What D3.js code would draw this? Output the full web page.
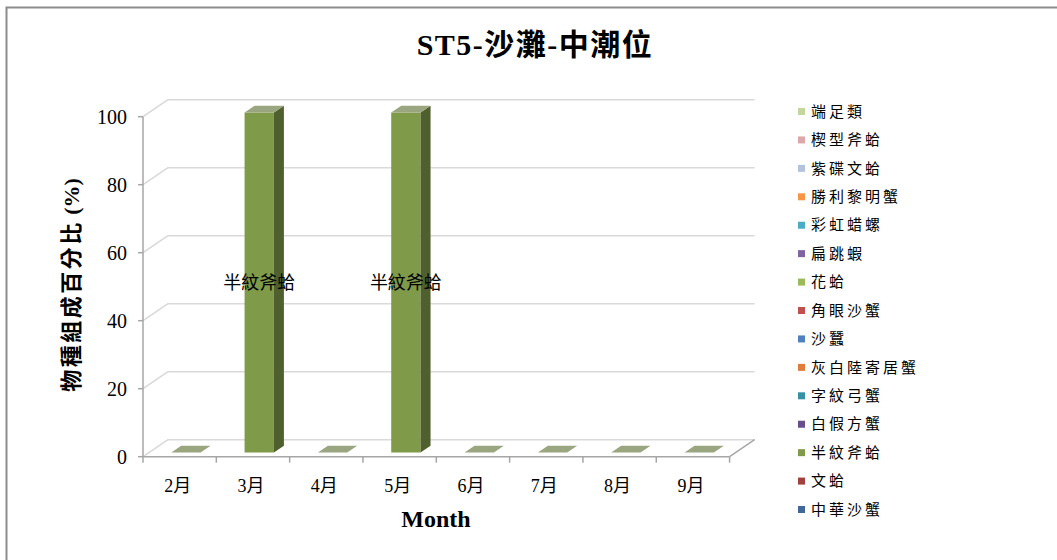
<!DOCTYPE html>
<html>
<head>
<meta charset="utf-8">
<script src="https://cdn.jsdelivr.net/npm/d3@7"></script>
<style>
  html, body { margin: 0; padding: 0; background: #fff; }
  svg { display: block; }
</style>
</head>
<body>
<svg id="chart" width="1057" height="560"></svg>
<script>
// ---------- data ----------
const months = ["2月", "3月", "4月", "5月", "6月", "7月", "8月", "9月"];
const species = ["端足類", "楔型斧蛤", "紫碟文蛤", "勝利黎明蟹", "彩虹蜡螺", "扁跳蝦", "花蛤",
  "角眼沙蟹", "沙蠶", "灰白陸寄居蟹", "字紋弓蟹", "白假方蟹", "半紋斧蛤", "文蛤", "中華沙蟹"];
const speciesColors = ["#c3d69b", "#dda8aa", "#b3c2dd", "#f79646", "#4bacc6", "#8064a2", "#9bbb59",
  "#c0504d", "#4f81bd", "#e07d39", "#3790a5", "#674e8a", "#7f9a48", "#a33f3c", "#3f679a"];
// percent composition per species, per month (order of months above)
const v端足類 = [0, 0, 0, 0, 0, 0, 0, 0];
const v楔型斧蛤 = [0, 0, 0, 0, 0, 0, 0, 0];
const v紫碟文蛤 = [0, 0, 0, 0, 0, 0, 0, 0];
const v勝利黎明蟹 = [0, 0, 0, 0, 0, 0, 0, 0];
const v彩虹蜡螺 = [0, 0, 0, 0, 0, 0, 0, 0];
const v扁跳蝦 = [0, 0, 0, 0, 0, 0, 0, 0];
const v花蛤 = [0, 0, 0, 0, 0, 0, 0, 0];
const v角眼沙蟹 = [0, 0, 0, 0, 0, 0, 0, 0];
const v沙蠶 = [0, 0, 0, 0, 0, 0, 0, 0];
const v灰白陸寄居蟹 = [0, 0, 0, 0, 0, 0, 0, 0];
const v字紋弓蟹 = [0, 0, 0, 0, 0, 0, 0, 0];
const v白假方蟹 = [0, 0, 0, 0, 0, 0, 0, 0];
const v半紋斧蛤 = [0, 100, 0, 100, 0, 0, 0, 0];
const v文蛤 = [0, 0, 0, 0, 0, 0, 0, 0];
const v中華沙蟹 = [0, 0, 0, 0, 0, 0, 0, 0];
const seriesValues = [v端足類, v楔型斧蛤, v紫碟文蛤, v勝利黎明蟹, v彩虹蜡螺, v扁跳蝦, v花蛤,
  v角眼沙蟹, v沙蠶, v灰白陸寄居蟹, v字紋弓蟹, v白假方蟹, v半紋斧蛤, v文蛤, v中華沙蟹];
const yTicks = [0, 20, 40, 60, 80, 100];
const titleText = "ST5-沙灘-中潮位";
const yTitleMain = "物種組成百分比";
const yTitleUnit = " (%)";
const xTitle = "Month";

// ---------- layout ----------
const svg = d3.select("#chart");
const serif = "'Liberation Serif','Times New Roman','Noto Sans CJK TC',serif";
const cjk = "'Noto Sans CJK TC','Noto Sans CJK SC',sans-serif";
const X0 = 143, X1 = 729.6, Y0 = 456.7, Y1 = 116.7;
const DX = 25, DY = -17;          // depth vector of 3D box
const F1 = 0.25, F2 = 0.65;       // bar depth fractions
const gridColor = "#d9d9d9", axisColor = "#a6a6a6";

const x = d3.scaleBand().domain(months).range([X0, X1]).paddingInner(0).paddingOuter(0);
const y = d3.scaleLinear().domain([0, 100]).range([Y0, Y1]);

// outer border
svg.append("rect").attr("x", 6.5).attr("y", 7.5).attr("width", 1100).attr("height", 600)
  .attr("fill", "#fff").attr("stroke", "#8c8c8c").attr("stroke-width", 2);

// title
svg.append("text").attr("x", 535).attr("y", 55).attr("text-anchor", "middle")
  .attr("font-family", serif).attr("font-weight", "bold").attr("font-size", 30)
  .attr("letter-spacing", 1.5).attr("fill", "#000").text(titleText);

// back gridlines and side-wall diagonals
const grid = svg.append("g");
yTicks.forEach(t => {
  const yy = y(t);
  grid.append("line").attr("x1", X0 + DX).attr("x2", X1 + DX).attr("y1", yy + DY).attr("y2", yy + DY)
    .attr("stroke", gridColor).attr("stroke-width", 1.6);
  grid.append("line").attr("x1", X0).attr("x2", X0 + DX).attr("y1", yy).attr("y2", yy + DY)
    .attr("stroke", gridColor).attr("stroke-width", 1.6);
});

// axes
const axes = svg.append("g").attr("stroke", axisColor).attr("stroke-width", 1.5);
axes.append("line").attr("x1", X0).attr("x2", X0).attr("y1", Y1).attr("y2", Y0);
yTicks.forEach(t => {
  axes.append("line").attr("x1", X0 - 5).attr("x2", X0).attr("y1", y(t)).attr("y2", y(t));
});
axes.append("line").attr("x1", X0).attr("x2", X1).attr("y1", Y0).attr("y2", Y0);
axes.append("line").attr("x1", X1).attr("x2", X1 + DX).attr("y1", Y0).attr("y2", Y0 + DY);
months.forEach(m => {
  axes.append("line").attr("x1", x(m)).attr("x2", x(m)).attr("y1", Y0).attr("y2", Y0 + 6);
});
axes.append("line").attr("x1", X1).attr("x2", X1).attr("y1", Y0).attr("y2", Y0 + 6);

// tick labels
svg.append("g").selectAll("text").data(yTicks).join("text")
  .attr("x", 127).attr("y", d => y(d)).attr("dy", "0.35em").attr("text-anchor", "end")
  .attr("font-family", serif).attr("font-size", 20).attr("fill", "#000").text(d => d);
svg.append("g").selectAll("text").data(months).join("text")
  .attr("x", d => x(d) + x.bandwidth() / 2 - 2).attr("y", 486).attr("dy", "0.35em")
  .attr("text-anchor", "middle").attr("font-family", serif).attr("font-size", 18)
  .attr("fill", "#000").text(d => d);

// axis titles
const yt = svg.append("text").attr("transform", "translate(79,285) rotate(-90)")
  .attr("text-anchor", "middle").attr("font-family", serif).attr("font-weight", "bold")
  .attr("font-size", 22).attr("fill", "#000");
yt.append("tspan").attr("letter-spacing", 2.5).text(yTitleMain);
yt.append("tspan").text(yTitleUnit);
svg.append("text").attr("x", 436).attr("y", 527).attr("text-anchor", "middle")
  .attr("font-family", serif).attr("font-weight", "bold").attr("font-size", 24)
  .attr("fill", "#000").text(xTitle);

// ---------- 3D stacked bars ----------
const tableRows = months.map((m, i) => {
  const row = { month: m };
  species.forEach((s, k) => row[s] = seriesValues[k][i]);
  return row;
});
const stacked = d3.stack().keys(species)(tableRows);
const barW = x.bandwidth() * 0.4;
const fdx = DX * F1, fdy = DY * F1, bdx = DX * F2, bdy = DY * F2;
const zeroTop = "#9aa680";
const barsG = svg.append("g");

function shade(c, k) { const h = d3.hsl(c); h.l = h.l * k; return h.formatHex(); }

stacked.forEach((layer, k) => {
  const col = speciesColors[k];
  layer.forEach((seg, i) => {
    const m = months[i];
    const L = x(m) + (x.bandwidth() - barW) / 2, R = L + barW;
    const yT = y(seg[1]), yB = y(seg[0]);
    const val = seg[1] - seg[0];
    const total = d3.sum(seriesValues, sv => sv[i]);
    if (val <= 0) {
      if (total === 0 && species[k] === "半紋斧蛤") {
        barsG.append("polygon").attr("points", [[L + fdx, yT + fdy], [R + fdx, yT + fdy], [R + bdx, yT + bdy], [L + bdx, yT + bdy]].join(" "))
          .attr("fill", zeroTop);
      }
      return;
    }
    // front
    barsG.append("polygon").attr("points", [[L + fdx, yT + fdy], [R + fdx, yT + fdy], [R + fdx, yB + fdy], [L + fdx, yB + fdy]].join(" "))
      .attr("fill", col);
    // side
    barsG.append("polygon").attr("points", [[R + fdx, yT + fdy], [R + bdx, yT + bdy], [R + bdx, yB + bdy], [R + fdx, yB + fdy]].join(" "))
      .attr("fill", shade(col, 0.62));
    // top
    barsG.append("polygon").attr("points", [[L + fdx, yT + fdy], [R + fdx, yT + fdy], [R + bdx, yT + bdy], [L + bdx, yT + bdy]].join(" "))
      .attr("fill", zeroTop);
    // label
    barsG.append("text").attr("x", (L + R) / 2 + fdx).attr("y", (yT + yB) / 2 + fdy).attr("dy", "0.35em")
      .attr("text-anchor", "middle").attr("font-family", cjk).attr("font-size", 18)
      .attr("fill", "#000").text(species[k]);
  });
});

// ---------- legend ----------
const lg = svg.append("g");
species.forEach((s, k) => {
  const yy = 111.5 + 28.43 * k;
  lg.append("rect").attr("x", 798).attr("y", yy - 3.5).attr("width", 7).attr("height", 7)
    .attr("fill", speciesColors[k]);
  lg.append("text").attr("x", 811).attr("y", yy).attr("dy", "0.35em")
    .attr("font-family", cjk).attr("font-size", 15).attr("letter-spacing", 3)
    .attr("fill", "#000").text(s);
});
</script>
</body>
</html>
